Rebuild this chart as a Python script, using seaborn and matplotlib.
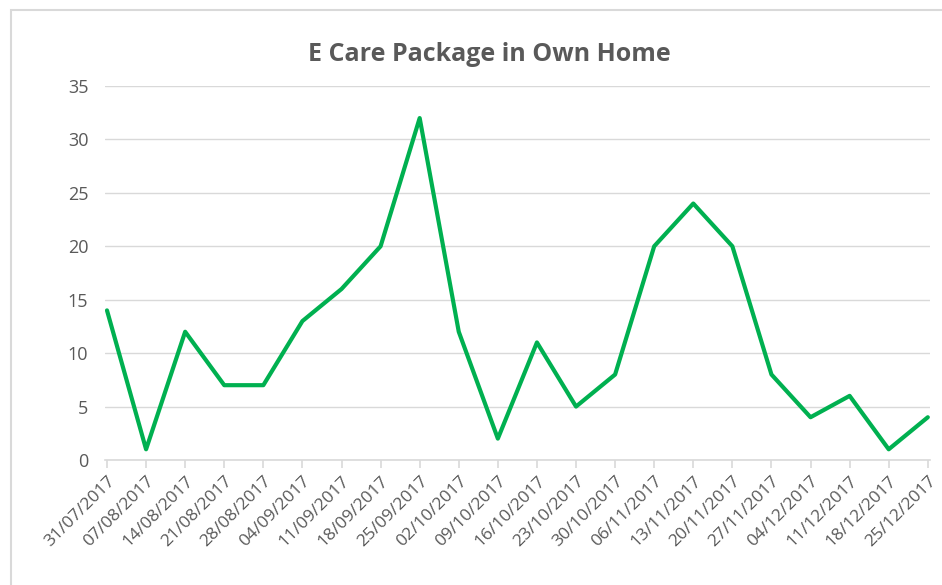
import pandas as pd
import matplotlib.pyplot as plt
import seaborn as sns
from matplotlib.patches import Rectangle

# semanas y valores
fechas = ['31/07/2017', '07/08/2017', '14/08/2017', '21/08/2017', '28/08/2017',
          '04/09/2017', '11/09/2017', '18/09/2017', '25/09/2017', '02/10/2017',
          '09/10/2017', '16/10/2017', '23/10/2017', '30/10/2017', '06/11/2017',
          '13/11/2017', '20/11/2017', '27/11/2017', '04/12/2017', '11/12/2017',
          '18/12/2017', '25/12/2017']
valores = [14, 1, 12, 7, 7, 13, 16, 20, 32, 12, 2, 11, 5, 8, 20, 24, 20, 8, 4, 6, 1, 4]
titulo = 'E Care Package in Own Home'

datos = pd.DataFrame({'fecha': fechas, 'valor': valores})

sns.set_style('white')
plt.rcParams['font.family'] = ['Liberation Sans Narrow', 'Open Sans', 'DejaVu Sans']

fig = plt.figure(figsize=(9.42, 5.85), dpi=100)
ax = fig.add_axes([0.1115, 0.2137, 0.8755, 0.6393])

sns.lineplot(data=datos, x='fecha', y='valor', sort=False, color='#00B050',
             linewidth=3, ax=ax)

ax.set_ylim(0, 35)
ax.set_yticks(range(0, 36, 5))
ax.set_xlim(-0.05, len(fechas) - 0.95)
ax.set_xlabel('')
ax.set_ylabel('')
ax.yaxis.grid(True, color='#D9D9D9', linewidth=1)
ax.set_axisbelow(True)
for lado in ['top', 'right', 'left']:
    ax.spines[lado].set_visible(False)
ax.spines['bottom'].set_color('#D9D9D9')
ax.spines['bottom'].set_linewidth(1.2)
ax.tick_params(axis='y', length=0, labelsize=13, labelcolor='#595959', pad=12)
ax.tick_params(axis='x', length=6, color='#D9D9D9', width=1.2, labelsize=12.5,
               labelcolor='#595959', bottom=True)
plt.setp(ax.get_xticklabels(), rotation=45, ha='right', rotation_mode='anchor')

fig.text(0.52, 0.906, titulo, ha='center', va='center', fontsize=18,
         fontweight='bold', color='#595959')

# borde del grafico
fig.patches.append(Rectangle((11 / 942, -0.1), 1.2, 1 - 10 / 585 + 0.1,
                             transform=fig.transFigure, fill=False,
                             edgecolor='#D9D9D9', linewidth=1.5))

fig.savefig('out.png', dpi=100)
